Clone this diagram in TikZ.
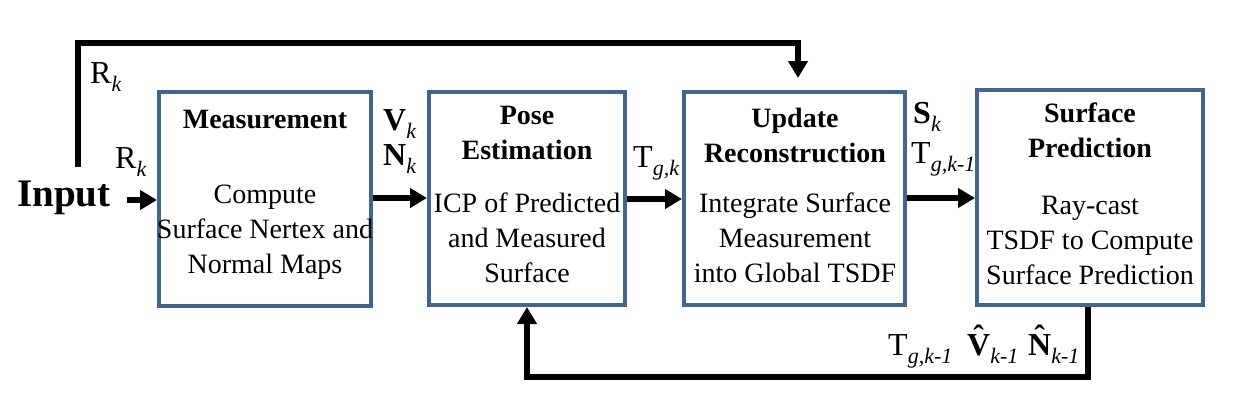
\documentclass[tikz,border=0pt]{standalone}
\usepackage{fontspec}
\setmainfont{Liberation Serif}
\usetikzlibrary{arrows.meta,calc}
\definecolor{boxblue}{RGB}{65,100,145}
\newcommand{\lbsub}[1]{\raisebox{-8pt}{\fontsize{22}{22}\selectfont\itshape #1}}
\newcommand{\hatbf}[1]{{\setbox0\hbox{\textbf{#1}}\rlap{\hbox to \wd0{\hss\raisebox{8pt}{\textbf{\symbol{"02C6}}}\hss}}\box0}}
\tikzset{
  blockbox/.style={draw=boxblue, line width=4pt, inner sep=0pt},
  titletext/.style={font=\fontsize{28}{35}\selectfont\bfseries, align=center, inner sep=0pt},
  bodytext/.style={font=\fontsize{28}{35}\selectfont, align=center, inner sep=0pt},
  lab/.style={font=\fontsize{32}{32}\selectfont, anchor=base west, inner sep=0pt},
  arr/.style={line width=5.5pt, -{Triangle[length=17pt,width=19pt]}}
}
\begin{document}
\begin{tikzpicture}[x=1pt,y=-1pt]
\useasboundingbox (0,0) rectangle (1237,405);
% boxes
\node[blockbox, minimum width=212pt, minimum height=214pt] (m) at (265,199) {};
\node[titletext] (mt) at (265,119) {Measurement};
\node[bodytext] (mb) at (265,232) {Compute\\Surface Nertex and\\Normal Maps};
\node[blockbox, minimum width=196pt, minimum height=213pt] (p) at (527,198.5) {};
\node[titletext] (pt) at (527,132.5) {Pose\\Estimation};
\node[bodytext] (pb) at (527,238) {ICP of Predicted\\and Measured\\Surface};
\node[blockbox, minimum width=221pt, minimum height=213pt] (u) at (794.5,198.5) {};
\node[titletext] (ut) at (795,135) {Update\\Reconstruction};
\node[bodytext] (ub) at (795,238) {Integrate Surface\\Measurement\\into Global TSDF};
\node[blockbox, minimum width=226pt, minimum height=215pt] (s) at (1090,197.5) {};
\node[titletext] (st) at (1090,130.5) {Surface\\Prediction};
\node[bodytext] (sb) at (1090,240) {Ray-cast\\TSDF to Compute\\Surface Prediction};
% input
\node[font=\fontsize{39}{39}\selectfont\bfseries, anchor=base west, inner sep=0pt] (in) at (17,206) {Input};
% labels
\node[lab] (rk1) at (90,83) {R\lbsub{k}};
\node[lab] (rk2) at (115,168) {R\lbsub{k}};
\node[lab] (vk) at (383,130) {\textbf{V}\lbsub{k}};
\node[lab] (nk) at (383,165) {\textbf{N}\lbsub{k}};
\node[lab] (tgk) at (633,167) {T\lbsub{g,k}};
\node[lab] (sk) at (913,123) {\textbf{S}\lbsub{k}};
\node[lab] (tgk1) at (911,163) {T\lbsub{g,k-1}};
\node[lab] (tb) at (888,355) {T\lbsub{g,k-1}};
\node[lab] (vh) at (967,355) {\hatbf{V}\lbsub{k-1}};
\node[lab] (nh) at (1028,355) {\hatbf{N}\lbsub{k-1}};
% connectors
\coordinate (inA) at (127,200);
\draw[arr] (inA) -- (inA -| m.west);
\draw[arr] (m.east |- 0,198) -- (p.west |- 0,198);
\draw[arr] (p.east |- 0,199) -- (u.west |- 0,199);
\draw[arr] (u.east |- 0,198) -- (s.west |- 0,198);
\coordinate (fbA) at (78,167);
\coordinate (fbB) at (798,78);
\draw[arr] (fbA) -- (fbA |- 0,43) -| (fbB);
\draw[arr] ([xshift=-2pt]s.south) -- ([xshift=-2pt]s.south |- 0,377) -| (p.south);
\end{tikzpicture}
\end{document}
